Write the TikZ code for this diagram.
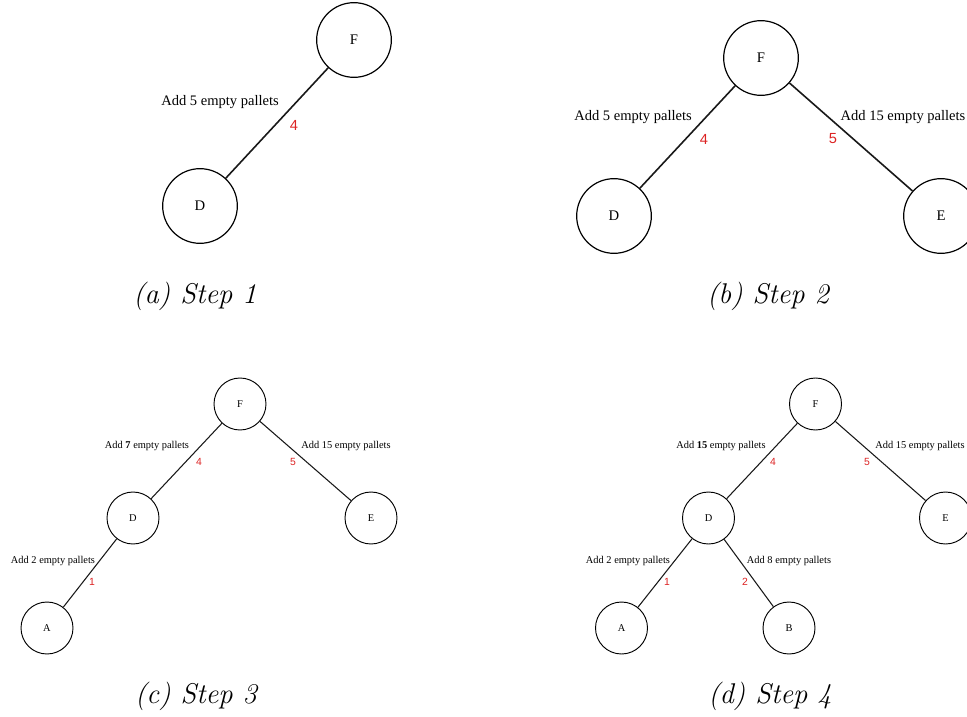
\documentclass[tikz,border=0pt]{standalone}
\usepackage{fontspec}
\newfontfamily\timesfont{Liberation Serif}
\newfontfamily\numfont{Liberation Sans}
\definecolor{edgered}{RGB}{220,35,35}
\tikzset{
  bignode/.style={draw, circle, line width=0.9pt, minimum size=56pt, inner sep=0pt, font=\timesfont\fontsize{11}{13}\selectfont},
  smallnode/.style={draw, circle, line width=0.7pt, minimum size=39pt, inner sep=0pt, font=\timesfont\fontsize{7.8}{9}\selectfont},
  bigedge/.style={line width=1.2pt, draw=black!90},
  smalledge/.style={line width=0.8pt, draw=black!90},
  biglab/.style={inner sep=0pt, font=\timesfont\fontsize{10.9}{13}\selectfont},
  smalllab/.style={inner sep=0pt, font=\timesfont\fontsize{7.8}{9}\selectfont},
  bignum/.style={inner sep=0pt, text=edgered, font=\numfont\fontsize{11}{13}\selectfont},
  smallnum/.style={inner sep=0pt, text=edgered, font=\numfont\fontsize{7.8}{9}\selectfont},
  captext/.style={inner sep=0pt, font=\fontsize{21.4}{25}\selectfont\itshape}
}
\begin{document}
\begin{tikzpicture}[x=0.75pt,y=-0.75pt]
\useasboundingbox (0,0) rectangle (967,717);
% ---------- (a) ----------
\node[bignode] (aF) at (354,40) {F};
\node[bignode] (aD) at (200,206) {D};
\draw[bigedge] (aF) -- (aD);
\node[biglab] (aL1) at (220,102) {Add 5 empty pallets};
\node[bignum] (aN1) at (294,125) {4};
\node[captext] (capa) at (195,296) {(a) Step 1};
% ---------- (b) ----------
\node[bignode] (bF) at (761,58) {F};
\node[bignode] (bD) at (614,216) {D};
\node[bignode] (bE) at (941,216) {E};
\draw[bigedge] (bF) -- (bD);
\draw[bigedge] (bF) -- (bE);
\node[biglab] (bL1) at (633,117) {Add 5 empty pallets};
\node[bignum] (bN1) at (704,139) {4};
\node[biglab] (bL2) at (903,117) {Add 15 empty pallets};
\node[bignum] (bN2) at (833,139) {5};
\node[captext] (capb) at (768,296) {(b) Step 2};
% ---------- (c) ----------
\node[smallnode] (cF) at (240,404) {F};
\node[smallnode] (cD) at (133,518) {D};
\node[smallnode] (cE) at (371,518) {E};
\node[smallnode] (cA) at (47,628) {A};
\draw[smalledge] (cF) -- (cD);
\draw[smalledge] (cF) -- (cE);
\draw[smalledge] (cD) -- (cA);
\node[smalllab] (cL1) at (147,446) {Add \textbf{7} empty pallets};
\node[smallnum] (cN1) at (199,462) {4};
\node[smalllab] (cL2) at (346,446) {Add 15 empty pallets};
\node[smallnum] (cN2) at (293,462) {5};
\node[smalllab] (cL3) at (53,561) {Add 2 empty pallets};
\node[smallnum] (cN3) at (92,582) {1};
\node[captext] (capc) at (196,696) {(c) Step 3};
% ---------- (d) ----------
\node[smallnode] (dF) at (815.5,404) {F};
\node[smallnode] (dD) at (708.5,518) {D};
\node[smallnode] (dE) at (945.5,518) {E};
\node[smallnode] (dA) at (621.5,628) {A};
\node[smallnode] (dB) at (789,628) {B};
\draw[smalledge] (dF) -- (dD);
\draw[smalledge] (dF) -- (dE);
\draw[smalledge] (dD) -- (dA);
\draw[smalledge] (dD) -- (dB);
\node[smalllab] (dL1) at (721,446) {Add \textbf{15} empty pallets};
\node[smallnum] (dN1) at (773,462) {4};
\node[smalllab] (dL2) at (920,446) {Add 15 empty pallets};
\node[smallnum] (dN2) at (867,462) {5};
\node[smalllab] (dL3) at (628,561) {Add 2 empty pallets};
\node[smallnum] (dN3) at (667,582) {1};
\node[smalllab] (dL4) at (789,561) {Add 8 empty pallets};
\node[smallnum] (dN4) at (745,582) {2};
\node[captext] (capd) at (770,696) {(d) Step 4};
\end{tikzpicture}
\end{document}
